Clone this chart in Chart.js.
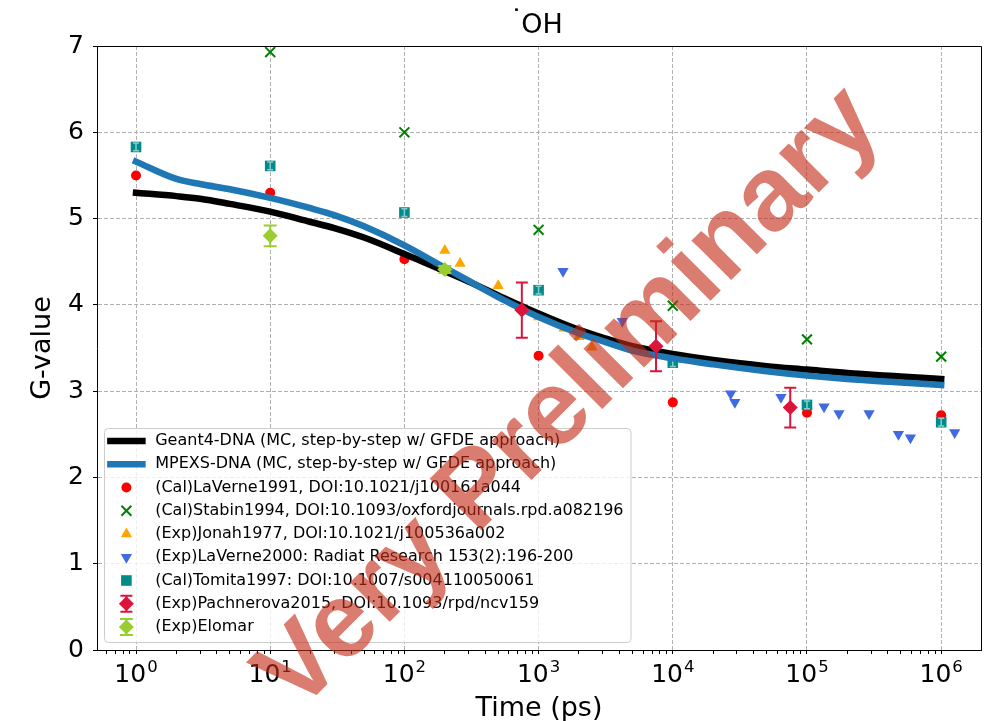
<!DOCTYPE html>
<html>
<head>
<meta charset="utf-8">
<title>OH radical G-value</title>
<script src="https://cdn.jsdelivr.net/npm/chart.js@4.4.1/dist/chart.umd.min.js"></script>
<style>
  html, body { margin: 0; padding: 0; background: #fff; }
  canvas { display: block; }
</style>
</head>
<body>
<canvas id="g-chart" width="993" height="721"></canvas>
<script>
// simulated time grid (ps) shared by both track-structure codes
const modelTime = [1, 2, 3, 5, 10, 20, 30, 50, 100, 200, 300, 500, 1e3, 2e3, 3e3, 5e3, 1e4, 2e4, 5e4, 1e5, 2e5, 5e5, 1e6];
const geant4G = [5.30, 5.26, 5.23, 5.17, 5.08, 4.96, 4.89, 4.78, 4.59, 4.39, 4.27, 4.11, 3.90, 3.71, 3.62, 3.52, 3.43, 3.36, 3.29, 3.25, 3.21, 3.17, 3.14];
const mpexsG = [5.66, 5.46, 5.40, 5.34, 5.24, 5.12, 5.04, 4.91, 4.69, 4.43, 4.28, 4.09, 3.86, 3.67, 3.58, 3.47, 3.38, 3.31, 3.23, 3.18, 3.14, 3.10, 3.07];

// reference data
const laVerne1991T = [1, 10, 100, 1e3, 1e4, 1e5, 1e6];
const laVerne1991G = [5.50, 5.30, 4.53, 3.41, 2.87, 2.75, 2.72];
const stabin1994T = [10, 100, 1e3, 1e4, 1e5, 1e6];
const stabin1994G = [6.93, 6.00, 4.87, 3.99, 3.60, 3.40];
const jonah1977T = [200, 260, 500, 1000, 1550, 2000, 2500];
const jonah1977G = [4.63, 4.48, 4.22, 3.86, 3.73, 3.63, 3.51];
const laVerne2000T = [1520, 4200, 2.7e4, 2.9e4, 6.4e4, 1.34e5, 1.73e5, 2.9e5, 4.8e5, 5.9e5, 1.26e6];
const laVerne2000G = [4.39, 3.81, 2.97, 2.87, 2.93, 2.82, 2.74, 2.74, 2.50, 2.46, 2.52];
const tomita1997T = [1, 10, 100, 1e3, 1e4, 1e5, 1e6];
const tomita1997G = [5.83, 5.61, 5.07, 4.17, 3.33, 2.84, 2.64];
const tomita1997Err = [0.045, 0.045, 0.045, 0.045, 0.045, 0.045, 0.045];
const pachnerovaT = [750, 7500, 75000];
const pachnerovaG = [3.94, 3.52, 2.81];
const pachnerovaErr = [0.32, 0.29, 0.23];
const elomarT = [10, 200];
const elomarG = [4.80, 4.41];
const elomarErr = [0.12, 0.04];

const xMin = 0.512, xMax = 1.98e6;
const font = 'DejaVu Sans';

const toPoints = (t, g) => t.map((v, i) => ({ x: v, y: g[i] }));

const isDecade = (v) => {
    const p = Math.log10(v);
    return Math.abs(p - Math.round(p)) < 1e-9;
};

// 1..9 x 10^n ticks; decades are the major ones
const logTicks = (scale) => {
    const out = [];
    for (let e = -1; e <= 6; e++) {
        for (let m = 1; m <= 9; m++) {
            const v = +(m * Math.pow(10, e)).toPrecision(6);
            if (v >= xMin && v <= xMax) out.push({ value: v, major: m === 1 });
        }
    }
    scale.ticks = out;
};

const marker = (style, radius, color, extra) => Object.assign({
    pointStyle: style,
    pointRadius: radius,
    pointHoverRadius: radius,
    pointBackgroundColor: color,
    pointBorderColor: color,
    pointBorderWidth: 0,
    backgroundColor: color,
    borderColor: color,
    showLine: false
}, extra || {});

// listed in legend order; "order" sets stacking (higher = further back)
const datasets = [
    {
        label: 'Geant4-DNA (MC, step-by-step w/ GFDE approach)',
        data: toPoints(modelTime, geant4G),
        showLine: true, borderColor: '#000000', backgroundColor: '#000000',
        borderWidth: 6.5, pointRadius: 0, borderCapStyle: 'square', borderJoinStyle: 'round',
        cubicInterpolationMode: 'monotone', order: 4
    },
    {
        label: 'MPEXS-DNA (MC, step-by-step w/ GFDE approach)',
        data: toPoints(modelTime, mpexsG),
        showLine: true, borderColor: '#1f77b4', backgroundColor: '#1f77b4',
        borderWidth: 6.5, pointRadius: 0, borderCapStyle: 'square', borderJoinStyle: 'round',
        cubicInterpolationMode: 'monotone', order: 3
    },
    Object.assign({ label: '(Cal)LaVerne1991, DOI:10.1021/j100161a044', data: toPoints(laVerne1991T, laVerne1991G), order: 9 },
        marker('circle', 5, '#ff0000')),
    Object.assign({ label: '(Cal)Stabin1994, DOI:10.1093/oxfordjournals.rpd.a082196', data: toPoints(stabin1994T, stabin1994G), order: 8 },
        marker('crossRot', 7, '#008000', { pointBorderWidth: 2, borderWidth: 2 })),
    Object.assign({ label: '(Exp)Jonah1977, DOI:10.1021/j100536a002', data: toPoints(jonah1977T, jonah1977G), order: 7 },
        marker('triangle', 6.5, '#ffa500')),
    Object.assign({ label: '(Exp)LaVerne2000: Radiat Research 153(2):196-200', data: toPoints(laVerne2000T, laVerne2000G), order: 6 },
        marker('triangle', 6.5, '#4169e1', { pointRotation: 180 })),
    Object.assign({ label: '(Cal)Tomita1997: DOI:10.1007/s004110050061', data: toPoints(tomita1997T, tomita1997G), order: 5,
        errors: tomita1997Err, errorColor: 'rgba(255,255,255,0.55)', errorWidth: 1.5, capHalf: 3, errorsOnTop: true },
        marker('rect', 7.5, '#008b8b')),
    Object.assign({ label: '(Exp)Pachnerova2015, DOI:10.1093/rpd/ncv159', data: toPoints(pachnerovaT, pachnerovaG), order: 2,
        errors: pachnerovaErr, errorColor: '#dc143c', errorWidth: 2, capHalf: 6 },
        marker('rectRot', 7.5, '#dc143c')),
    Object.assign({ label: '(Exp)Elomar', data: toPoints(elomarT, elomarG), order: 1,
        errors: elomarErr, errorColor: '#9acd32', errorWidth: 2, capHalf: 6.5 },
        marker('rectRot', 7.5, '#9acd32'))
];

const drawErrors = (chart, args, onTop) => {
    const ds = chart.data.datasets[args.index];
    if (!ds.errors || !!ds.errorsOnTop !== onTop) return;
    const ctx = chart.ctx;
    const yScale = chart.scales.y;
    ctx.save();
    ctx.strokeStyle = ds.errorColor;
    ctx.lineWidth = ds.errorWidth;
    args.meta.data.forEach((pt, i) => {
        const hi = yScale.getPixelForValue(ds.data[i].y + ds.errors[i]);
        const lo = yScale.getPixelForValue(ds.data[i].y - ds.errors[i]);
        ctx.beginPath();
        ctx.moveTo(pt.x, hi); ctx.lineTo(pt.x, lo);
        ctx.moveTo(pt.x - ds.capHalf, hi); ctx.lineTo(pt.x + ds.capHalf, hi);
        ctx.moveTo(pt.x - ds.capHalf, lo); ctx.lineTo(pt.x + ds.capHalf, lo);
        ctx.stroke();
    });
    ctx.restore();
};

const errorBars = {
    id: 'errorBars',
    beforeDatasetDraw: (chart, args) => drawErrors(chart, args, false),
    afterDatasetDraw: (chart, args) => drawErrors(chart, args, true)
};

// top/right spines, title and the 10^n tick labels
const frame = {
    id: 'frame',
    afterDatasetsDraw(chart) {
        const { ctx, chartArea: a } = chart;
        ctx.save();
        ctx.strokeStyle = '#000';
        ctx.lineWidth = 1;
        ctx.beginPath();
        ctx.moveTo(a.left, Math.round(a.top) + 0.5);
        ctx.lineTo(Math.round(a.right) + 0.5, Math.round(a.top) + 0.5);
        ctx.lineTo(Math.round(a.right) + 0.5, a.bottom);
        ctx.stroke();

        const cx = (a.left + a.right) / 2 + 3;
        ctx.fillStyle = '#000';
        ctx.font = '27px "' + font + '"';
        ctx.textAlign = 'center';
        ctx.textBaseline = 'middle';
        ctx.fillText('OH', cx, 26);
        const half = ctx.measureText('OH').width / 2;
        ctx.textAlign = 'right';
        ctx.fillText('˙', cx - half + 2, 22);

        const xs = chart.scales.x;
        ctx.textBaseline = 'alphabetic';
        ctx.textAlign = 'left';
        xs.ticks.filter(t => isDecade(t.value)).forEach(t => {
            const px = xs.getPixelForValue(t.value);
            const exp = String(Math.round(Math.log10(t.value)));
            ctx.font = '25px "' + font + '"';
            const wBase = ctx.measureText('10').width;
            ctx.font = '16.5px "' + font + '"';
            const wExp = ctx.measureText(exp).width;
            const x0 = px - (wBase + wExp + 1) / 2;
            ctx.font = '25px "' + font + '"';
            ctx.fillText('10', x0, a.bottom + 32);
            ctx.font = '16.5px "' + font + '"';
            ctx.fillText(exp, x0 + wBase + 1, a.bottom + 22);
        });
        ctx.restore();
    }
};

const legendBox = {
    id: 'legendBox',
    afterDraw(chart) {
        const { ctx, chartArea: a } = chart;
        const sets = chart.data.datasets;
        ctx.save();
        ctx.font = '16px "' + font + '"';
        const textW = Math.max(...sets.map(d => ctx.measureText(d.label).width));
        const rowH = 23.25;
        const height = 13 + rowH * (sets.length - 1) + 15;
        const left = a.left + 7, bottom = a.bottom - 8, top = bottom - height;
        const width = 51.2 + textW + 7;
        ctx.beginPath();
        ctx.roundRect(Math.round(left) + 0.5, Math.round(top) + 0.5, width, height, 4);
        ctx.fillStyle = 'rgba(255,255,255,0.8)';
        ctx.fill();
        ctx.strokeStyle = '#cccccc';
        ctx.lineWidth = 1;
        ctx.stroke();
        sets.forEach((d, i) => {
            const y = top + 13 + rowH * i;
            const hx = left + 6.4, cx = hx + 16;
            if (d.showLine) {
                ctx.beginPath();
                ctx.moveTo(hx, y); ctx.lineTo(hx + 32, y);
                ctx.strokeStyle = d.borderColor;
                ctx.lineWidth = d.borderWidth;
                ctx.lineCap = 'square';
                ctx.stroke();
                ctx.lineCap = 'butt';
            } else {
                if (d.errors && !d.errorsOnTop) {
                    ctx.beginPath();
                    ctx.strokeStyle = d.errorColor;
                    ctx.lineWidth = d.errorWidth;
                    ctx.moveTo(cx, y - 8); ctx.lineTo(cx, y + 8);
                    ctx.moveTo(cx - d.capHalf, y - 8); ctx.lineTo(cx + d.capHalf, y - 8);
                    ctx.moveTo(cx - d.capHalf, y + 8); ctx.lineTo(cx + d.capHalf, y + 8);
                    ctx.stroke();
                }
                ctx.fillStyle = d.pointBackgroundColor;
                ctx.strokeStyle = d.pointBorderColor;
                ctx.lineWidth = d.pointBorderWidth;
                Chart.helpers.drawPoint(ctx, {
                    pointStyle: d.pointStyle, radius: d.pointRadius,
                    rotation: d.pointRotation || 0, borderWidth: d.pointBorderWidth
                }, cx, y);
            }
            ctx.fillStyle = '#000';
            ctx.textBaseline = 'middle';
            ctx.textAlign = 'left';
            ctx.fillText(d.label, left + 51.2, y);
        });
        ctx.restore();
    }
};

const watermark = {
    id: 'watermark',
    afterDraw(chart) {
        const ctx = chart.ctx;
        ctx.save();
        ctx.translate(570, 400);
        ctx.rotate(-Math.PI / 4);
        ctx.font = 'bold 106px "Liberation Sans"';
        ctx.fillStyle = 'rgba(195,45,25,0.62)';
        ctx.textAlign = 'center';
        ctx.textBaseline = 'middle';
        ctx.fillText('Very Preliminary', 0, 0);
        ctx.restore();
    }
};

const gChart = new Chart(document.getElementById('g-chart'), {
    type: 'scatter',
    data: { datasets: datasets },
    options: {
        responsive: false,
        animation: false,
        layout: { padding: { left: 0, right: 12, top: 46, bottom: 0 } },
        plugins: {
            legend: { display: false },
            tooltip: { enabled: false },
            title: { display: false }
        },
        scales: {
            x: {
                type: 'logarithmic', min: xMin, max: xMax,
                afterBuildTicks: logTicks,
                afterFit: (s) => { s.height = 71; },
                ticks: {
                    autoSkip: false, maxRotation: 0, padding: 4, color: '#000',
                    font: { family: font, size: 25 }, callback: () => ''
                },
                grid: {
                    color: (c) => (c.tick && c.tick.major) ? '#b0b0b0' : 'rgba(0,0,0,0)',
                    tickColor: '#000', tickLength: 4, lineWidth: 1, tickWidth: 1, tickBorderDash: []
                },
                border: { display: true, color: '#000', width: 1, dash: [4, 2] },
                title: {
                    display: true, text: 'Time (ps)', color: '#000',
                    font: { family: font, size: 27 }, padding: { top: 0, bottom: -4 }
                }
            },
            y: {
                min: 0, max: 7,
                afterFit: (s) => { s.width = 97; },
                ticks: { stepSize: 1, padding: 9, color: '#000', font: { family: font, size: 25 } },
                grid: {
                    color: (c) => (c.tick && (c.tick.value === 0 || c.tick.value === 7)) ? 'rgba(0,0,0,0)' : '#b0b0b0',
                    tickColor: '#000', tickLength: 4, lineWidth: 1, tickWidth: 1, tickBorderDash: []
                },
                border: { display: true, color: '#000', width: 1, dash: [4, 2] },
                title: {
                    display: true, text: 'G-value', color: '#000',
                    font: { family: font, size: 27 }, padding: { top: 27, bottom: 0 }
                }
            }
        }
    },
    plugins: [errorBars, frame, legendBox, watermark]
});
</script>
</body>
</html>
